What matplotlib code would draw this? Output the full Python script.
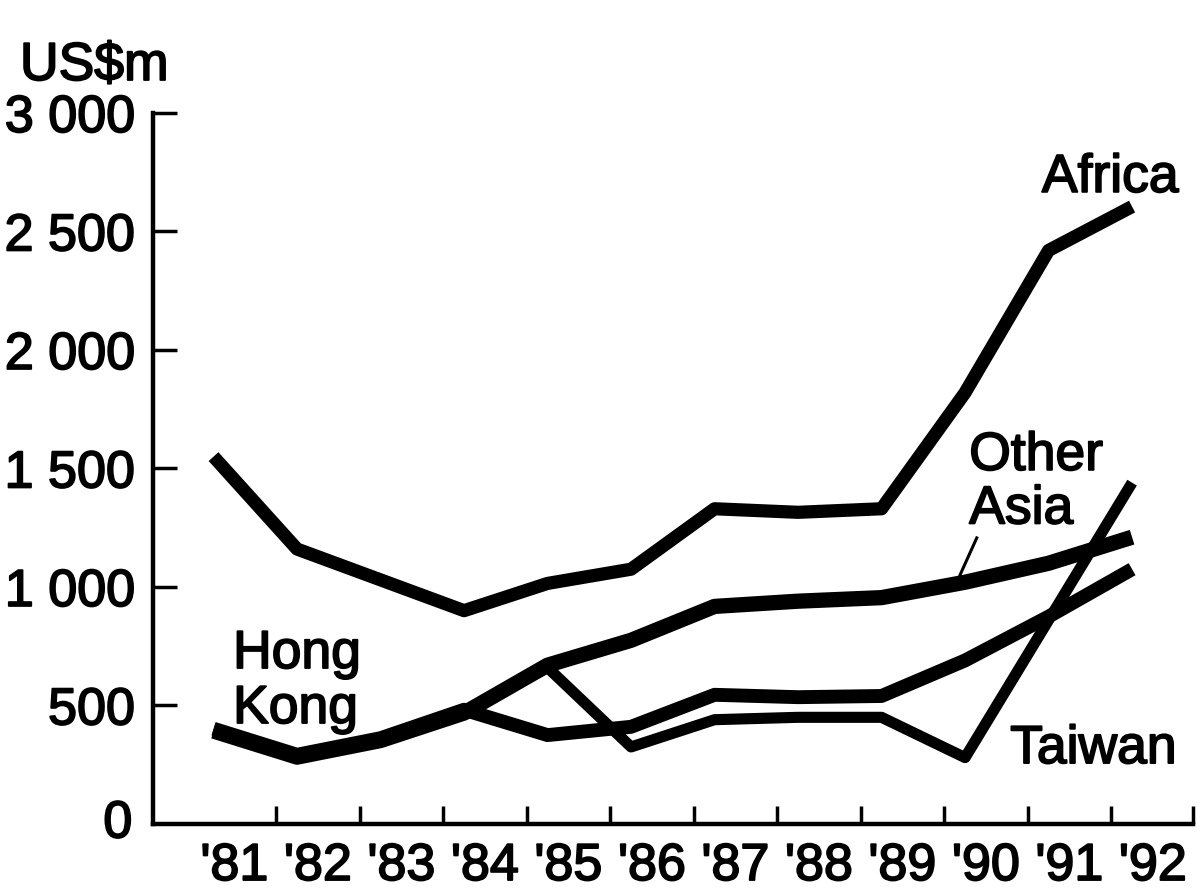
import matplotlib
matplotlib.use("Agg")
import matplotlib.pyplot as plt
import matplotlib.patheffects as pe
from matplotlib.ticker import FixedLocator, NullFormatter

plt.rcParams['font.family'] = ['Liberation Sans', 'DejaVu Sans']

# Years and series (US$m)
years = ["'81", "'82", "'83", "'84", "'85", "'86", "'87", "'88", "'89", "'90", "'91", "'92"]
africa = [1550, 1160, 1030, 900, 1015, 1075, 1330, 1315, 1330, 1820, 2420, 2605]
other_asia = [392, 282, 352, 468, 670, 775, 918, 940, 955, 1020, 1100, 1210]
hong_kong = [402, 292, 362, 482, 375, 410, 545, 535, 540, 690, 875, 1075]
taiwan = [397, 287, 357, 474, 660, 325, 440, 450, 450, 280, 860, 1440]

y_ticks = [500, 1000, 1500, 2000, 2500, 3000]
y_ticklabels = ["500", "1 000", "1 500", "2 000", "2 500", "3 000"]

FS = 38.5
TICK_FS = 37.5
heavy = [pe.withStroke(linewidth=1.3, foreground='black')]

fig = plt.figure(figsize=(12, 8.93), dpi=100)
ax = fig.add_axes([0.1275, 0.0773, 0.8667, 0.7962])

x = list(range(len(years)))
lw_kw = dict(color='black', solid_joinstyle='round', solid_capstyle='butt')
ax.plot(x, taiwan, lw=8.0, **lw_kw)
ax.plot(x, hong_kong, lw=10.0, **lw_kw)
ax.plot(x, other_asia, lw=11.0, **lw_kw)
ax.plot(x, africa, lw=9.5, **lw_kw)

ax.set_xlim(-0.725, 11.73)
ax.set_ylim(0, 3000)

for s in ('top', 'right'):
    ax.spines[s].set_visible(False)
for s in ('left', 'bottom'):
    ax.spines[s].set_linewidth(3.2)

# y axis: inward ticks, spaced thousands
ax.set_yticks(y_ticks)
ax.set_yticklabels(y_ticklabels)
ax.tick_params(axis='y', direction='in', length=17, width=2.5, pad=13, labelsize=TICK_FS)
ax.text(-0.02, 0, "0", transform=ax.get_yaxis_transform(), ha='right', va='center',
        fontsize=TICK_FS, path_effects=heavy)

# x axis: labels between boundary ticks
ax.set_xticks([i + 0.25 for i in x])
ax.set_xticklabels(years)
ax.tick_params(axis='x', which='major', length=0, pad=13, labelsize=TICK_FS)
ax.xaxis.set_minor_locator(FixedLocator([i - 0.25 for i in x[1:]] + [11.73]))
ax.xaxis.set_minor_formatter(NullFormatter())
ax.tick_params(axis='x', which='minor', direction='in', length=13, width=2.5)

for lab in ax.get_xticklabels() + ax.get_yticklabels():
    lab.set_path_effects(heavy)

# Series labels
def label(xv, yv, s):
    ax.text(xv, yv, s, fontsize=FS, ha='left', va='baseline', path_effects=heavy)

label(9.92, 2667, "Africa")
label(9.05, 1494, "Other")
label(9.05, 1268, "Asia")
ax.plot([9.14, 8.94], [1207, 1051], color='black', lw=2.2)
label(0.234, 658, "Hong")
label(0.234, 426, "Kong")
label(9.54, 257, "Taiwan")

fig.text(20 / 1200, 1 - 80 / 893, "US$m", fontsize=FS, ha='left', va='baseline',
         path_effects=heavy)

fig.savefig("out.png", dpi=100, facecolor='white')
